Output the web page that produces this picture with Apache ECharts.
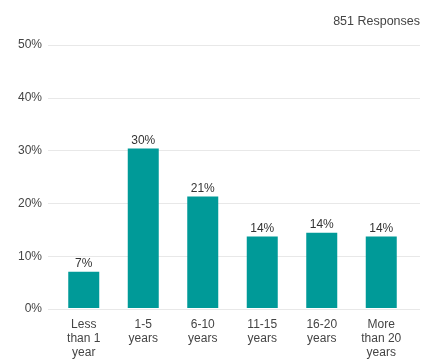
<!DOCTYPE html>
<html>
<head>
<meta charset="utf-8">
<script src="https://cdn.jsdelivr.net/npm/echarts@6/dist/echarts.min.js"></script>
<style>
  html, body { margin: 0; padding: 0; background: #fff; }
  #chart { width: 425px; height: 360px; }
</style>
</head>
<body>
<div id="chart"></div>
<script>
// Years of experience, share of respondents (percent)
const categories = ['Less\nthan 1\nyear', '1-5\nyears', '6-10\nyears', '11-15\nyears', '16-20\nyears', 'More\nthan 20\nyears'];
const shares = [6.9, 30.3, 21.2, 13.6, 14.3, 13.6];
const yTicks = [0, 10, 20, 30, 40, 50];
const totalLabel = '851 Responses';

const font = 'Liberation Sans, Arial, sans-serif';
const chart = echarts.init(document.getElementById('chart'), null, { renderer: 'canvas' });

chart.setOption({
  animation: false,
  textStyle: { fontFamily: font },
  title: {
    text: totalLabel,
    right: 0,
    top: 10,
    textStyle: { fontFamily: font, fontSize: 12.5, fontWeight: 'normal', color: '#444' }
  },
  grid: [
    // background grid carrying the percent gridlines
    { left: 48, right: 5, top: 45, bottom: 51 },
    // plotting area for the bars
    { left: 54, right: 14, top: 45, bottom: 51 }
  ],
  xAxis: [
    { gridIndex: 0, type: 'value', show: false, min: 0, max: 1 },
    {
      gridIndex: 1,
      type: 'category',
      data: categories,
      axisLine: { show: false },
      axisTick: { show: false },
      axisLabel: {
        color: '#444',
        fontSize: 12,
        lineHeight: 14,
        margin: 10,
        interval: 0
      }
    }
  ],
  yAxis: [
    {
      gridIndex: 0,
      type: 'value',
      min: yTicks[0],
      max: yTicks[yTicks.length - 1],
      interval: 10,
      axisLine: { show: false },
      axisTick: { show: false },
      axisLabel: { color: '#444', fontSize: 12, margin: 6, formatter: v => v + '%' },
      splitLine: { lineStyle: { color: '#e8e8e8', width: 1 } }
    },
    {
      gridIndex: 1,
      type: 'value',
      min: yTicks[0],
      max: yTicks[yTicks.length - 1],
      show: false
    }
  ],
  series: [
    {
      type: 'bar',
      xAxisIndex: 1,
      yAxisIndex: 1,
      data: shares,
      barWidth: 31,
      itemStyle: { color: '#009a98' },
      label: {
        show: true,
        position: 'top',
        distance: 2,
        color: '#333',
        fontSize: 12,
        formatter: p => Math.round(p.value) + '%'
      }
    }
  ]
});
</script>
</body>
</html>
